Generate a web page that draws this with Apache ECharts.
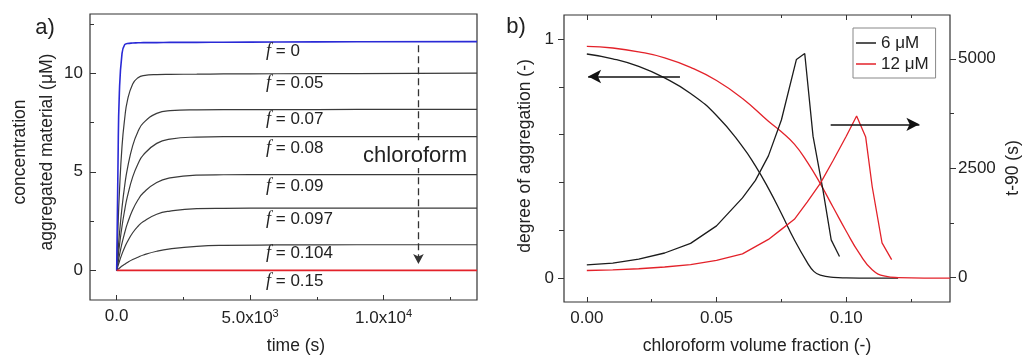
<!DOCTYPE html>
<html>
<head>
<meta charset="utf-8">
<script src="https://cdn.jsdelivr.net/npm/echarts@6/dist/echarts.min.js"></script>
<style>html,body{margin:0;padding:0;background:#fff}#c{width:1024px;height:355px}</style>
</head>
<body>
<div id="c"></div>
<script>
// ---------- Panel a data ----------
const timeS = [0, 50, 100, 200, 300, 400, 600, 800, 1000, 1500, 2000, 3000, 4000, 6000, 9000, 13500];
const f000 = [0, 5.5, 9.0, 11.0, 11.45, 11.5, 11.53, 11.54, 11.55, 11.55, 11.56, 11.56, 11.57, 11.58, 11.59, 11.6];
const f005 = [0, 2.2, 3.9, 6.3, 7.7, 8.6, 9.45, 9.77, 9.88, 9.93, 9.94, 9.95, 9.96, 9.97, 9.98, 10.0];
const f007 = [0, 0.96, 1.8, 3.2, 4.3, 5.15, 6.33, 7.05, 7.48, 7.96, 8.1, 8.14, 8.15, 8.15, 8.16, 8.16];
const f008 = [0, 0.65, 1.23, 2.24, 3.06, 3.74, 4.74, 5.41, 5.86, 6.44, 6.66, 6.76, 6.78, 6.78, 6.78, 6.78];
const f009 = [0, 0.39, 0.75, 1.38, 1.91, 2.37, 3.07, 3.58, 3.94, 4.46, 4.69, 4.83, 4.85, 4.86, 4.86, 4.86];
const f0097 = [0, 0.23, 0.45, 0.84, 1.17, 1.45, 1.91, 2.24, 2.48, 2.85, 3.01, 3.13, 3.15, 3.16, 3.16, 3.16];
const f0104 = [0, 0.06, 0.11, 0.22, 0.31, 0.40, 0.55, 0.67, 0.78, 0.97, 1.09, 1.22, 1.27, 1.29, 1.30, 1.30];
const f015 = [0, 0, 0, 0, 0, 0, 0, 0, 0, 0, 0, 0, 0, 0, 0, 0];
const fLabels = ['0', '0.05', '0.07', '0.08', '0.09', '0.097', '0.104', '0.15'];

const aTimeTicks = [0, 5000, 10000];
const aTimeMinor = [2500, 7500, 12500];
const aConcTicks = [0, 5, 10];
const aConcMinor = [2.5, 7.5, 12.5];

// ---------- Panel b data ----------
const fracDeg6 = [0, 0.01, 0.02, 0.03, 0.04, 0.05, 0.06, 0.065, 0.07, 0.075, 0.08, 0.085, 0.0875, 0.09, 0.095, 0.1, 0.11, 0.12];
const deg6 = [0.937, 0.917, 0.885, 0.837, 0.772, 0.68, 0.55, 0.469, 0.375, 0.27, 0.16, 0.065, 0.028, 0.012, 0.003, 0.001, 0, 0];
const fracDeg12 = [0, 0.01, 0.02, 0.03, 0.04, 0.05, 0.06, 0.07, 0.075, 0.08, 0.085, 0.09, 0.095, 0.1, 0.105, 0.11, 0.115, 0.12, 0.13, 0.14];
const deg12 = [0.969, 0.962, 0.946, 0.921, 0.881, 0.826, 0.751, 0.656, 0.612, 0.56, 0.485, 0.395, 0.295, 0.196, 0.104, 0.035, 0.008, 0.002, 0, 0];
const fracT6 = [0, 0.01, 0.02, 0.03, 0.04, 0.05, 0.06, 0.065, 0.07, 0.075, 0.0808, 0.084, 0.0872, 0.091, 0.0942, 0.0974];
const t90_6 = [290, 330, 420, 560, 780, 1180, 1820, 2220, 2780, 3600, 4985, 5120, 3230, 2010, 860, 480];
const fracT12 = [0, 0.01, 0.02, 0.03, 0.04, 0.05, 0.06, 0.07, 0.075, 0.08, 0.085, 0.09, 0.095, 0.1, 0.104, 0.1075, 0.11, 0.1138, 0.1175];
const t90_12 = [160, 175, 200, 240, 295, 390, 540, 870, 1100, 1330, 1730, 2150, 2680, 3230, 3690, 3210, 2080, 790, 410];

const bFracTicks = [0, 0.05, 0.1];
const bFracMinor = [0.025, 0.075, 0.125];
const bDegTicks = [0, 1];
const bDegMinor = [0.2, 0.4, 0.6, 0.8];
const bT90Ticks = [0, 2500, 5000];
const bT90Minor = [1250, 3750];

const FONT = 'Liberation Sans, Arial, sans-serif';
const AX = '#333';

function pairs(xs, ys) { return xs.map((x, i) => [x, ys[i]]); }

function axis(o) {
  const base = {
    type: 'value', scale: false, splitLine: {show: false},
    axisLine: {show: false, onZero: false},
    axisLabel: {show: false},
    axisTick: {show: true, inside: o.inside, length: o.len, customValues: o.ticks, lineStyle: {color: AX, width: 1}}
  };
  return Object.assign(base, o.extra || {});
}

const chart = echarts.init(document.getElementById('c'), null, {renderer: 'canvas'});

const aRange = {min: -1000, max: 13500};
const aYRange = {min: -1.5, max: 13};
const bRange = {min: -0.0088, max: 0.14};
const bYRange = {min: -0.1, max: 1.1};
const bY2Range = {min: -560, max: 6000};

const labelStyle = {fontFamily: FONT, fontSize: 17, color: '#222'};

const xAxes = [
  axis({inside: true, len: 5, ticks: aTimeTicks, extra: Object.assign({gridIndex: 0, position: 'bottom',
    axisLabel: Object.assign({show: true, margin: 8, customValues: aTimeTicks,
      formatter: v => v === 0 ? '0.0' : (v === 5000 ? '5.0x10{s|3}' : '1.0x10{s|4}'),
      rich: {s: {fontSize: 11, fontFamily: FONT, color: '#222', padding: [0, 0, 9, 0]}}}, labelStyle)}, aRange)}),
  axis({inside: true, len: 3, ticks: aTimeMinor, extra: Object.assign({gridIndex: 0, position: 'bottom'}, aRange)}),
  axis({inside: true, len: 5, ticks: bFracTicks, extra: Object.assign({gridIndex: 1, position: 'bottom',
    axisLabel: Object.assign({show: true, margin: 8, customValues: bFracTicks, formatter: v => v.toFixed(2)}, labelStyle)}, bRange)}),
  axis({inside: true, len: 3, ticks: bFracMinor, extra: Object.assign({gridIndex: 1, position: 'bottom'}, bRange)}),
  axis({inside: true, len: 5, ticks: bFracTicks, extra: Object.assign({gridIndex: 1, position: 'top'}, bRange)}),
  axis({inside: true, len: 3, ticks: bFracMinor, extra: Object.assign({gridIndex: 1, position: 'top'}, bRange)})
];

const yAxes = [
  axis({inside: true, len: 6, ticks: aConcTicks, extra: Object.assign({gridIndex: 0, position: 'left',
    axisLabel: Object.assign({show: true, margin: 7, customValues: aConcTicks, formatter: v => String(v)}, labelStyle)}, aYRange)}),
  axis({inside: true, len: 4, ticks: aConcMinor, extra: Object.assign({gridIndex: 0, position: 'left'}, aYRange)}),
  axis({inside: false, len: 6, ticks: bDegTicks, extra: Object.assign({gridIndex: 1, position: 'left',
    axisLabel: Object.assign({show: true, margin: 10, customValues: bDegTicks, formatter: v => String(v)}, labelStyle)}, bYRange)}),
  axis({inside: false, len: 5, ticks: bDegMinor, extra: Object.assign({gridIndex: 1, position: 'left'}, bYRange)}),
  axis({inside: false, len: 6, ticks: bT90Ticks, extra: Object.assign({gridIndex: 1, position: 'right',
    axisLabel: Object.assign({show: true, margin: 8, customValues: bT90Ticks, formatter: v => String(v)}, labelStyle)}, bY2Range)}),
  axis({inside: false, len: 4, ticks: bT90Minor, extra: Object.assign({gridIndex: 1, position: 'right'}, bY2Range)})
];

const aSeriesVals = [f000, f005, f007, f008, f009, f0097, f0104, f015];
const aColors = ['#2a2ad6', '#3a3a3a', '#3a3a3a', '#3a3a3a', '#3a3a3a', '#3a3a3a', '#3a3a3a', '#e3222a'];
const series = aSeriesVals.map((vals, i) => ({
  type: 'line', name: 'f=' + fLabels[i], xAxisIndex: 0, yAxisIndex: 0,
  data: pairs(timeS, vals), showSymbol: false, symbol: 'none',
  smooth: 0.5,
  lineStyle: {color: aColors[i], width: i === 0 || i === 7 ? 1.6 : 1.2},
  itemStyle: {color: aColors[i]}, z: i === 0 || i === 7 ? 3 : 2
}));

// chloroform dashed arrow on panel a
series[7].markLine = {
  silent: true, symbol: ['none', 'arrow'], symbolSize: [8, 10], label: {show: false},
  lineStyle: {color: '#333', width: 1.3, type: [7, 4]},
  data: [[{coord: [11306, 11.42]}, {coord: [11306, 0.33]}]]
};

const BLACK = '#1c1c1c', RED = '#e3222a';
series.push({
  type: 'line', name: '6 μM', xAxisIndex: 2, yAxisIndex: 2, data: pairs(fracDeg6, deg6),
  symbol: 'none', smooth: 0.5, lineStyle: {color: BLACK, width: 1.3}, itemStyle: {color: BLACK},
  markLine: {
    silent: true, symbol: ['none', 'arrow'], symbolSize: [10, 13], label: {show: false},
    lineStyle: {color: '#111', width: 1.6, type: 'solid'},
    data: [
      [{coord: [0.0359, 0.843]}, {coord: [0.0005, 0.843]}],
      [{coord: [0.094, 0.643]}, {coord: [0.1282, 0.643]}]
    ]
  }
});
series.push({
  type: 'line', name: '12 μM', xAxisIndex: 2, yAxisIndex: 2, data: pairs(fracDeg12, deg12),
  symbol: 'none', smooth: 0.5, lineStyle: {color: RED, width: 1.3}, itemStyle: {color: RED}
});
series.push({
  type: 'line', name: '6 μM', xAxisIndex: 2, yAxisIndex: 4, data: pairs(fracT6, t90_6),
  symbol: 'none', smooth: false, lineStyle: {color: BLACK, width: 1.3}, itemStyle: {color: BLACK}
});
series.push({
  type: 'line', name: '12 μM', xAxisIndex: 2, yAxisIndex: 4, data: pairs(fracT12, t90_12),
  symbol: 'none', smooth: false, lineStyle: {color: RED, width: 1.3}, itemStyle: {color: RED}
});

// f labels (positioned below their curves)
const fLabelY = [51.7, 83.3, 119, 148.3, 186.7, 219, 253.3, 281.7];
const graphics = fLabels.map((lab, i) => ({
  type: 'text', x: 266, y: fLabelY[i], z: 10,
  style: {
    text: '{i|f}{n| = ' + lab + '}', textVerticalAlign: 'middle', textAlign: 'left',
    rich: {
      i: {fontFamily: 'Liberation Serif, serif', fontStyle: 'italic', fontSize: 18, fill: '#222'},
      n: {fontFamily: FONT, fontSize: 17, fill: '#222'}
    }
  }
}));

graphics.push(
  {type: 'text', x: 415, y: 156, z: 10, style: {text: 'chloroform', font: '22px ' + FONT, fill: '#222',
    textAlign: 'center', textVerticalAlign: 'middle', backgroundColor: '#fff', padding: [1, 2]}},
  {type: 'text', x: 45, y: 28, style: {text: 'a)', font: '22px ' + FONT, fill: '#222', textAlign: 'center', textVerticalAlign: 'middle'}},
  {type: 'text', x: 516, y: 27, style: {text: 'b)', font: '22px ' + FONT, fill: '#222', textAlign: 'center', textVerticalAlign: 'middle'}},
  {type: 'text', x: 296, y: 346, style: {text: 'time (s)', font: '17.5px ' + FONT, fill: '#222', textAlign: 'center', textVerticalAlign: 'middle'}},
  {type: 'text', x: 757, y: 346, style: {text: 'chloroform volume fraction (-)', font: '17.5px ' + FONT, fill: '#222', textAlign: 'center', textVerticalAlign: 'middle'}},
  {type: 'text', x: 33.5, y: 152, rotation: Math.PI / 2, style: {text: 'concentration\naggregated material (μM)', font: '17.5px ' + FONT, lineHeight: 27, fill: '#222', textAlign: 'center', textVerticalAlign: 'middle'}},
  {type: 'text', x: 525, y: 156, rotation: Math.PI / 2, style: {text: 'degree of aggregation (-)', font: '17.5px ' + FONT, fill: '#222', textAlign: 'center', textVerticalAlign: 'middle'}},
  {type: 'text', x: 1013, y: 168, rotation: Math.PI / 2, style: {text: 't-90 (s)', font: '17.5px ' + FONT, fill: '#222', textAlign: 'center', textVerticalAlign: 'middle'}}
);

chart.setOption({
  animation: false,
  backgroundColor: '#fff',
  grid: [
    {left: 90, top: 14, width: 387, height: 286, show: true, borderColor: '#333', borderWidth: 1.2, backgroundColor: 'transparent'},
    {left: 564, top: 15, width: 386, height: 287, show: true, borderColor: '#333', borderWidth: 1.2, backgroundColor: 'transparent'}
  ],
  xAxis: xAxes,
  yAxis: yAxes,
  legend: {
    data: ['6 μM', '12 μM'], orient: 'vertical', left: 853, top: 28,
    padding: [5, 7, 4, 3], itemGap: 1, itemWidth: 20, itemHeight: 1.5, icon: 'rect',
    selectedMode: false, borderColor: '#888', borderWidth: 1, backgroundColor: '#fff',
    textStyle: {fontFamily: FONT, fontSize: 17, color: '#222', lineHeight: 20}
  },
  series: series,
  graphic: graphics
});
</script>
</body>
</html>
